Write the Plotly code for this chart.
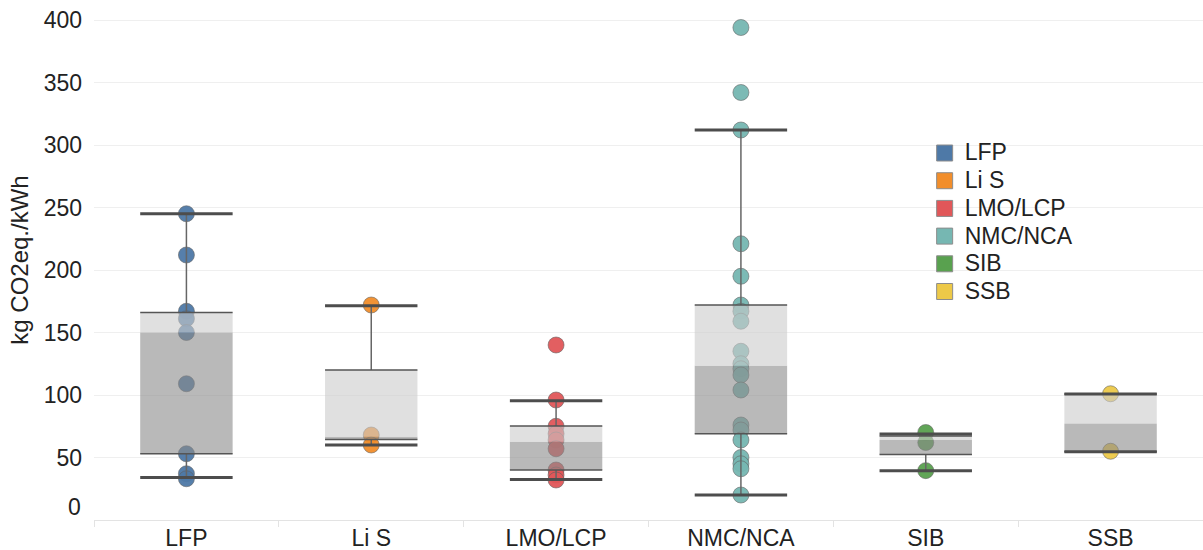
import plotly.graph_objects as go

# ---------------- data ----------------
categories = ["LFP", "Li S", "LMO/LCP", "NMC/NCA", "SIB", "SSB"]
colors = ["#4e79a7", "#f28e2b", "#e15759", "#76b7b2", "#59a14f", "#edc948"]

lfp = [245, 212, 167, 161, 150, 109, 53, 37, 33]
li_s = [172, 68, 60]
lmo_lcp = [140, 96, 75, 69, 64, 57, 40, 36, 32]
nmc_nca = [394, 342, 312, 221, 195, 172, 167, 159, 135, 125, 121, 116, 104,
           76, 72, 64, 50, 45, 41, 20]
sib = [70, 62, 39.5]
ssb = [101, 55]
series = [lfp, li_s, lmo_lcp, nmc_nca, sib, ssb]

# box-plot statistics
q1 = [53, 64.5, 40, 69, 52.5, 54.7]
median = [150, 66.7, 62.7, 123.5, 64, 77.3]
q3 = [166, 120, 75.2, 172, 67.3, 100.8]
whisker_low = [34, 60, 32.5, 20, 39.5, 54.7]
whisker_high = [245, 171.5, 95.5, 312, 68.8, 100.8]

y_ticks = [50, 100, 150, 200, 250, 300, 350, 400]

# ---------------- figure ----------------
FONT = "Arial, Liberation Sans, sans-serif"
TXT = "#222222"
HALF = 0.25  # half box width in category units

fig = go.Figure()
xi = list(range(len(categories)))

# points (drawn first, box shading goes over them)
for i, vals in enumerate(series):
    fig.add_trace(go.Scatter(
        x=[xi[i]] * len(vals), y=vals, mode="markers",
        marker=dict(size=16, color=colors[i], opacity=0.95,
                    line=dict(width=1, color="rgba(95,95,95,0.6)")),
        showlegend=False, hoverinfo="y"))

# box shading: dark (Q1-median), light (median-Q3)
for i in xi:
    fig.add_trace(go.Scatter(
        x=[i - HALF, i + HALF, i + HALF, i - HALF, i - HALF],
        y=[q1[i], q1[i], median[i], median[i], q1[i]],
        mode="lines", fill="toself", fillcolor="rgba(138,138,138,0.6)",
        line=dict(width=0), showlegend=False, hoverinfo="skip"))
    fig.add_trace(go.Scatter(
        x=[i - HALF, i + HALF, i + HALF, i - HALF, i - HALF],
        y=[median[i], median[i], q3[i], q3[i], median[i]],
        mode="lines", fill="toself", fillcolor="rgba(203,203,203,0.6)",
        line=dict(width=0), showlegend=False, hoverinfo="skip"))

# whisker stems
wx, wy = [], []
for i in xi:
    if whisker_high[i] > q3[i]:
        wx += [i, i, None]
        wy += [q3[i], whisker_high[i], None]
    if whisker_low[i] < q1[i]:
        wx += [i, i, None]
        wy += [q1[i], whisker_low[i], None]
fig.add_trace(go.Scatter(x=wx, y=wy, mode="lines",
                         line=dict(width=1.5, color="#666666"),
                         showlegend=False, hoverinfo="skip"))

# box top/bottom edges
ex, ey = [], []
for i in xi:
    for v in (q1[i], q3[i]):
        ex += [i - HALF, i + HALF, None]
        ey += [v, v, None]
fig.add_trace(go.Scatter(x=ex, y=ey, mode="lines",
                         line=dict(width=1.5, color="#555555"),
                         showlegend=False, hoverinfo="skip"))

# whisker caps
cx, cy = [], []
for i in xi:
    for v in (whisker_low[i], whisker_high[i]):
        cx += [i - HALF, i + HALF, None]
        cy += [v, v, None]
fig.add_trace(go.Scatter(x=cx, y=cy, mode="lines",
                         line=dict(width=3, color="#4d4d4d"),
                         showlegend=False, hoverinfo="skip"))

# legend entries (square swatches)
for i, cat in enumerate(categories):
    fig.add_trace(go.Scatter(
        x=[None], y=[None], mode="markers",
        marker=dict(symbol="square", size=16, color=colors[i],
                    line=dict(width=1, color="#8c8c8c")),
        name=f'<span style="font-size:23px">{cat}</span>'))

fig.add_annotation(text="0", x=0, xref="paper", y=10.6, yref="y",
                   xanchor="right", yanchor="middle", xshift=-11,
                   showarrow=False, font=dict(family=FONT, size=23, color=TXT))

fig.update_layout(
    width=1203, height=550,
    margin=dict(l=94, r=0, t=0, b=30),
    paper_bgcolor="white", plot_bgcolor="white",
    font=dict(family=FONT, color=TXT),
    showlegend=True,
    legend=dict(x=0.749, y=0.742, xanchor="left", yanchor="top",
                font=dict(family=FONT, size=19, color=TXT),
                bgcolor="rgba(0,0,0,0)", borderwidth=0, itemwidth=30),
    xaxis=dict(range=[-0.5, 5.5], tickmode="array", tickvals=xi,
               ticktext=categories, tickfont=dict(size=23, color=TXT),
               showgrid=False, zeroline=False, showline=True,
               linecolor="#e3e3e3", linewidth=1, ticks="",
               ticklabelstandoff=-3, automargin=False,
               minor=dict(tickmode="array",
                          tickvals=[v - 0.5 for v in xi] + [xi[-1] + 0.5],
                          ticks="outside", ticklen=6, tickcolor="#e3e3e3",
                          showgrid=False)),
    yaxis=dict(range=[0, 416], tickmode="array", tickvals=y_ticks,
               tickfont=dict(size=23, color=TXT), showgrid=True,
               gridcolor="#efefef", gridwidth=1, zeroline=False,
               showline=False, ticks="", ticklabelstandoff=11,
               automargin=False,
               title=dict(text="kg CO2eq./kWh", font=dict(size=24, color=TXT),
                          standoff=8)),
)

fig.write_html("out.html",
               config={"displayModeBar": False},
               post_script="document.body.style.margin='0';")
